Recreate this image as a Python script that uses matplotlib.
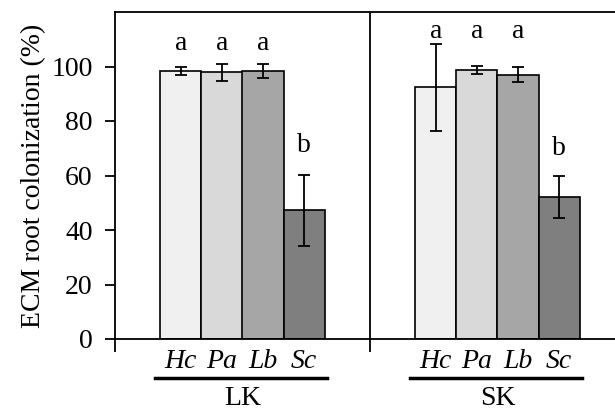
"""
ecm_colonization.py
Run: python ecm_colonization.py
"""

import matplotlib
matplotlib.use('Agg')
import matplotlib.pyplot as plt

species = ["Hc", "Pa", "Lb", "Sc"]
groups = ["LK", "SK"]

# mean colonization (%) and error per group, in species order
lk_mean = [98.4, 97.8, 98.4, 47.3]
lk_err = [1.6, 3.0, 2.5, 13.0]
sk_mean = [92.4, 98.8, 97.0, 52.1]
sk_err = [15.9, 1.5, 2.7, 7.7]

lk_letters = ["a", "a", "a", "b"]
sk_letters = ["a", "a", "a", "b"]

bar_colors = ["#f0f0f0", "#d9d9d9", "#a6a6a6", "#7f7f7f"]

plt.rcParams['font.family'] = ['Liberation Serif', 'DejaVu Serif']
FS = 20

fig = plt.figure(figsize=(6.15, 4.12), dpi=100)
ax = fig.add_axes([115 / 615, 73 / 412, 510 / 615, 327 / 412])

width = 0.161
offsets = [-1.5, -0.5, 0.5, 1.5]
data = [(lk_mean, lk_err, lk_letters, 108.5, 71),
        (sk_mean, sk_err, sk_letters, 113, 70)]

xtr = ax.get_xaxis_transform()
for g, (means, errs, letters, ya, yb) in enumerate(data):
    center = g + 0.5
    for i in range(4):
        x = center + offsets[i] * width
        ax.bar(x, means[i], width, color=bar_colors[i],
               edgecolor='black', linewidth=1.2, zorder=2)
        ax.errorbar(x, means[i], yerr=errs[i], color='black',
                    capsize=4.5, capthick=1.3, elinewidth=1.3, zorder=3)
        ylet = yb if letters[i] == "b" else ya
        ax.text(x, ylet, letters[i], ha='center', va='center', fontsize=FS)
        ax.text(x, -0.07, species[i], transform=xtr, ha='center',
                va='center', fontsize=FS, style='italic')
    ax.plot([center - 0.343, center + 0.331], [-0.119, -0.119],
            transform=xtr, color='black', linewidth=2.5, clip_on=False)
    ax.text(center, -0.182, groups[g], transform=xtr, ha='center',
            va='center', fontsize=FS)

ax.axvline(1, color='black', linewidth=1.3, zorder=1)

ax.set_xlim(0, 2)
ax.set_ylim(0, 120)
ax.set_yticks(range(0, 101, 20))
ax.set_xticks([0, 1, 2])
ax.set_xticklabels([])
ax.tick_params(axis='y', direction='out', length=7, width=1.3,
               labelsize=FS, pad=9)
ax.tick_params(axis='x', direction='out', length=9, width=1.3)
for s in ax.spines.values():
    s.set_linewidth(1.3)
ax.spines['right'].set_visible(False)
ax.set_ylabel("ECM root colonization (%)", fontsize=FS, labelpad=4)

fig.savefig("out.png", dpi=100)
plt.close(fig)
